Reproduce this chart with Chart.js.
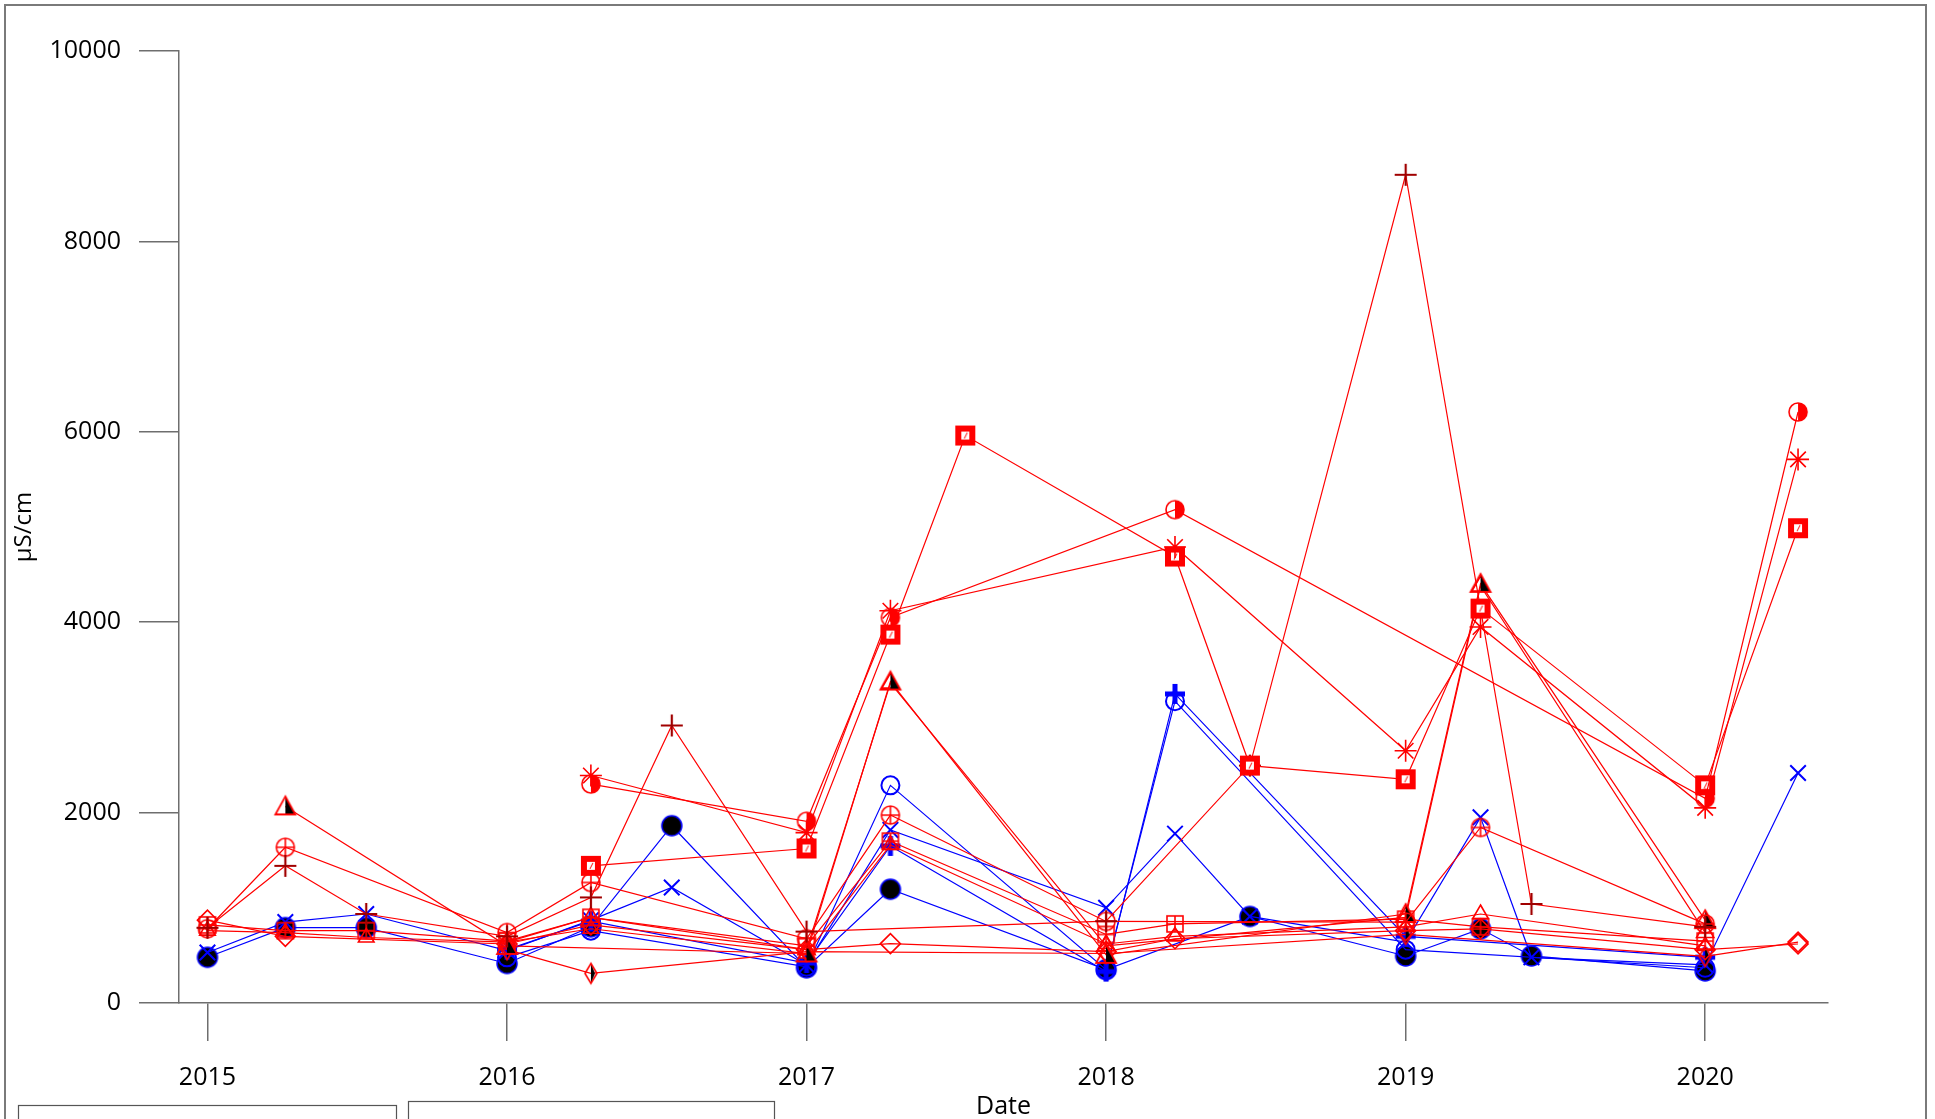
<!DOCTYPE html>
<html>
<head>
<meta charset="utf-8">
<script src="https://cdn.jsdelivr.net/npm/chart.js"></script>
<style>
    html, body { margin: 0; padding: 0; background: #ffffff; }
    canvas { display: block; }
</style>
</head>
<body>
<canvas id="condchart" width="1935" height="1119"></canvas>
<script>
// sampling dates, as decimal years
var sampleDates = [2015.00, 2015.26, 2015.53, 2016.00, 2016.28, 2016.55, 2017.00, 2017.28, 2017.53,
                   2018.00, 2018.23, 2018.48, 2019.00, 2019.25, 2019.42, 2020.00, 2020.31];
var yearTicks = [2015, 2016, 2017, 2018, 2019, 2020];
var condTicks = [0, 2000, 4000, 6000, 8000, 10000];

// red sites (µS/cm), null = not sampled
var halfCircleVals = [null, null, null, null, 2300, null, 1909, 4050, null, null, 5182, null, null, null, null, 2150, 6208];
var asteriskVals   = [null, null, null, null, 2390, null, 1790, 4120, null, null, 4790, null, 2650, 3950, null, 2050, 5710];
var squareVals     = [null, null, null, null, 1441, null, 1623, 3870, 5961, null, 4690, 2494, 2350, 4143, null, 2286, 4987];
var plusVals       = [790, 1441, 935, 700, 1109, 2915, 750, null, null, 860, null, 2494, 8700, null, 1040, 800, null];
var circlePlusVals = [780, 1636, null, 740, 1266, null, 675, 1974, null, 857, null, null, 850, 1844, null, 831, null];
var halfTriVals    = [null, 2065, null, 600, null, null, 520, 3377, null, 506, null, null, 935, 4403, null, 870, null];
var openTriVals    = [null, null, null, 640, 900, null, 560, 3360, null, 600, null, null, 900, 4380, null, 740, null];
var diamondVals    = [870, 700, null, 620, 820, null, 560, 623, null, 540, 675, null, 760, 779, null, 560, 620];
var halfDiamVals   = [null, null, null, 560, 311, null, 540, null, null, 520, null, null, 720, null, null, 490, 640];
var squarePlusVals = [820, 760, 760, 650, 900, null, 600, 1700, null, 720, 831, null, 880, 800, null, 650, null];
var smallTriVals   = [760, 740, 688, 640, 780, null, 520, 1660, null, 620, 700, null, 800, 935, null, 600, null];

// blue sites
var openCircleVals = [null, null, null, 480, 760, null, 380, 2286, null, 350, 3170, null, 560, null, null, 370, null];
var bluePlusVals   = [null, null, null, 560, 860, null, 420, 1650, null, 330, 3247, null, 700, null, null, 480, null];
var blueXVals      = [530, 850, 935, 550, 870, 1213, 400, 1818, null, 1000, 1779, 909, 640, 1950, 480, 400, 2416];
var blackDotVals   = [480, 792, 792, 415, 800, 1862, 370, 1195, null, 350, null, 909, 494, 779, 494, 337, null];

var RED = '#ff0000';
var BLUE = '#0000ff';
var NONE = 'rgba(0,0,0,0)';

// little canvases for the R style symbols chart.js doesn't have
function marker(draw) {
    var c = document.createElement('canvas');
    c.width = 26;
    c.height = 26;
    var ctx = c.getContext('2d');
    ctx.translate(13, 13);
    draw(ctx);
    return c;
}

var halfCircleMark = marker(function (ctx) {
    ctx.fillStyle = RED;
    ctx.beginPath();
    ctx.moveTo(0, -9);
    ctx.arc(0, 0, 9, -Math.PI / 2, Math.PI / 2);
    ctx.closePath();
    ctx.fill();
    ctx.strokeStyle = RED;
    ctx.lineWidth = 1.6;
    ctx.beginPath();
    ctx.arc(0, 0, 9, 0, Math.PI * 2);
    ctx.stroke();
});

var squareMark = marker(function (ctx) {
    ctx.fillStyle = RED;
    ctx.fillRect(-10, -10, 20, 20);
    ctx.fillStyle = '#ffffff';
    ctx.fillRect(-4, -4, 8, 8);
    ctx.strokeStyle = RED;
    ctx.lineWidth = 1;
    ctx.beginPath();
    ctx.moveTo(-1, 3);
    ctx.lineTo(2, -3);
    ctx.stroke();
});

var circlePlusMark = marker(function (ctx) {
    ctx.strokeStyle = RED;
    ctx.lineWidth = 1.6;
    ctx.beginPath();
    ctx.arc(0, 0, 9, 0, Math.PI * 2);
    ctx.moveTo(-9, 0); ctx.lineTo(9, 0);
    ctx.moveTo(0, -9); ctx.lineTo(0, 9);
    ctx.stroke();
});

var halfTriMark = marker(function (ctx) {
    ctx.fillStyle = '#000000';
    ctx.beginPath();
    ctx.moveTo(0, -10); ctx.lineTo(10, 8); ctx.lineTo(0, 8);
    ctx.closePath();
    ctx.fill();
    ctx.strokeStyle = RED;
    ctx.lineWidth = 1.8;
    ctx.beginPath();
    ctx.moveTo(0, -10); ctx.lineTo(10, 8); ctx.lineTo(-10, 8);
    ctx.closePath();
    ctx.stroke();
});

var halfDiamMark = marker(function (ctx) {
    ctx.fillStyle = '#000000';
    ctx.beginPath();
    ctx.moveTo(0, -10); ctx.lineTo(4, 0); ctx.lineTo(0, 10);
    ctx.closePath();
    ctx.fill();
    ctx.strokeStyle = RED;
    ctx.lineWidth = 1.6;
    ctx.beginPath();
    ctx.moveTo(0, -10); ctx.lineTo(6, 0); ctx.lineTo(0, 10); ctx.lineTo(-6, 0);
    ctx.closePath();
    ctx.stroke();
});

var squarePlusMark = marker(function (ctx) {
    ctx.strokeStyle = RED;
    ctx.lineWidth = 1.6;
    ctx.strokeRect(-8, -8, 16, 16);
    ctx.beginPath();
    ctx.moveTo(-8, 0); ctx.lineTo(8, 0);
    ctx.moveTo(0, -8); ctx.lineTo(0, 8);
    ctx.stroke();
});

var plusMark = marker(function (ctx) {
    ctx.strokeStyle = '#a00000';
    ctx.lineWidth = 2.2;
    ctx.beginPath();
    ctx.moveTo(-11, 0); ctx.lineTo(11, 0);
    ctx.moveTo(0, -11); ctx.lineTo(0, 11);
    ctx.stroke();
});

var bluePlusMark = marker(function (ctx) {
    ctx.strokeStyle = BLUE;
    ctx.lineWidth = 5;
    ctx.beginPath();
    ctx.moveTo(-10, 0); ctx.lineTo(10, 0);
    ctx.moveTo(0, -10); ctx.lineTo(0, 10);
    ctx.stroke();
});

var blackDotMark = marker(function (ctx) {
    ctx.fillStyle = '#000000';
    ctx.strokeStyle = BLUE;
    ctx.lineWidth = 1.5;
    ctx.beginPath();
    ctx.arc(0, 0, 10, 0, Math.PI * 2);
    ctx.fill();
    ctx.stroke();
});

function toPoints(values) {
    var pts = [];
    for (var i = 0; i < sampleDates.length; i++) {
        pts.push({ x: sampleDates[i], y: values[i] });
    }
    return pts;
}

function series(label, values, lineColor, style, radius, pointColor, fillColor, pointWidth) {
    return {
        label: label,
        data: toPoints(values),
        borderColor: lineColor,
        borderWidth: 1.2,
        pointStyle: style,
        pointRadius: radius,
        pointBorderColor: pointColor,
        pointBackgroundColor: fillColor,
        pointBorderWidth: pointWidth,
        spanGaps: true,
        fill: false,
        tension: 0
    };
}

// last half-diamond point hides under an open diamond in the original
var halfDiamStyle = function (ctx) {
    return ctx.dataIndex === sampleDates.length - 1 ? 'rectRot' : halfDiamMark;
};

var datasets = [
    series('halfcircle', halfCircleVals, RED, halfCircleMark, 10, RED, RED, 1),
    series('asterisk', asteriskVals, RED, 'star', 11, RED, NONE, 1.6),
    series('square', squareVals, RED, squareMark, 10, RED, RED, 1),
    series('plus', plusVals, RED, plusMark, 11, RED, NONE, 1),
    series('circleplus', circlePlusVals, RED, circlePlusMark, 10, RED, NONE, 1),
    series('halftri', halfTriVals, RED, halfTriMark, 10, RED, NONE, 1),
    series('opentri', openTriVals, RED, 'triangle', 10, RED, NONE, 1.6),
    series('diamond', diamondVals, RED, 'rectRot', 10, RED, NONE, 1.6),
    series('halfdiamond', halfDiamVals, RED, halfDiamStyle, 10, RED, NONE, 1.6),
    series('squareplus', squarePlusVals, RED, squarePlusMark, 9, RED, NONE, 1),
    series('smalltri', smallTriVals, RED, 'triangle', 9, RED, NONE, 1.6),
    series('opencircle', openCircleVals, BLUE, 'circle', 9, BLUE, NONE, 2),
    series('blueplus', bluePlusVals, BLUE, bluePlusMark, 10, BLUE, BLUE, 1),
    series('bluex', blueXVals, BLUE, 'crossRot', 11, BLUE, NONE, 2),
    series('blackdot', blackDotVals, BLUE, blackDotMark, 10, BLUE, '#000000', 1)
];

// outer device frame and the two legend boxes peeking in at the bottom
var framePlugin = {
    id: 'frame',
    afterDraw: function (chart) {
        var ctx = chart.ctx;
        ctx.save();
        ctx.strokeStyle = '#7a7a7a';
        ctx.lineWidth = 2;
        ctx.strokeRect(5, 5, 1921, 1200);
        ctx.strokeStyle = '#555555';
        ctx.lineWidth = 1.2;
        ctx.strokeRect(18.5, 1105.5, 378, 100);
        ctx.strokeRect(408.5, 1101.5, 366, 100);
        ctx.restore();
    }
};

var axisGray = '#6e6e6e';
var labelFont = { family: 'Open Sans', size: 25 };

new Chart('condchart', {
    type: 'line',
    data: { datasets: datasets },
    options: {
        responsive: false,
        animation: false,
        events: [],
        layout: { padding: { left: 0, top: 51, right: 107, bottom: 0 } },
        plugins: {
            legend: { display: false },
            tooltip: { enabled: false }
        },
        scales: {
            x: {
                type: 'linear',
                min: 2014.905,
                max: 2020.41,
                afterBuildTicks: function (axis) {
                    axis.ticks = yearTicks.map(function (v) { return { value: v }; });
                },
                afterFit: function (axis) { axis.height = 116; },
                border: { display: true, color: axisGray, width: 1.5 },
                grid: { drawOnChartArea: false, drawTicks: true, tickLength: 38, color: axisGray, lineWidth: 1.5 },
                ticks: {
                    color: '#000000',
                    font: labelFont,
                    padding: 22,
                    maxRotation: 0,
                    callback: function (v) { return String(v); }
                },
                title: {
                    display: true,
                    text: 'Date',
                    color: '#000000',
                    font: { family: 'Open Sans', size: 25, lineHeight: 1 },
                    padding: { top: 0, bottom: 0 }
                }
            },
            y: {
                type: 'linear',
                min: 0,
                max: 10000,
                afterBuildTicks: function (axis) {
                    axis.ticks = condTicks.map(function (v) { return { value: v }; });
                },
                afterFit: function (axis) { axis.width = 179; },
                border: { display: true, color: axisGray, width: 1.5 },
                grid: { drawOnChartArea: false, drawTicks: true, tickLength: 40, color: axisGray, lineWidth: 1.5 },
                ticks: {
                    color: '#000000',
                    font: labelFont,
                    padding: 18,
                    callback: function (v) { return String(v); }
                },
                title: {
                    display: true,
                    text: 'µS/cm',
                    color: '#000000',
                    font: { family: 'Open Sans', size: 24, lineHeight: 1 },
                    padding: { top: 12, bottom: 0 }
                }
            }
        }
    },
    plugins: [framePlugin]
});
</script>
</body>
</html>
